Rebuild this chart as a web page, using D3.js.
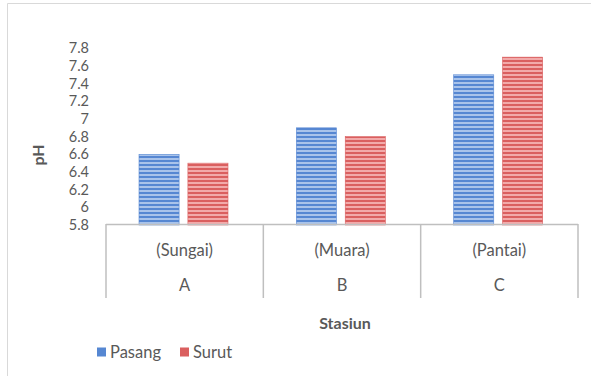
<!DOCTYPE html>
<html>
<head>
<meta charset="utf-8">
<script src="https://cdn.jsdelivr.net/npm/d3@7"></script>
<style>
  html, body { margin: 0; padding: 0; background: #fff; }
  svg text { font-family: "Lato", "Open Sans", sans-serif; fill: #595959; }
</style>
</head>
<body>
<svg id="chart" width="591" height="376"></svg>
<script>
// pH per station, at high tide (Pasang) and low tide (Surut)
const stations = ["A", "B", "C"];
const stationNames = ["(Sungai)", "(Muara)", "(Pantai)"];
const seriesNames = ["Pasang", "Surut"];
const pasang = [6.6, 6.9, 7.5];
const surut = [6.5, 6.8, 7.7];
const yTicks = [5.8, 6, 6.2, 6.4, 6.6, 6.8, 7, 7.2, 7.4, 7.6, 7.8];

const seriesValues = [pasang, surut];
const colors = {
  Pasang: { base: "#5687d2", light: "#a9c3ea" },
  Surut:  { base: "#da5f5f", light: "#f2aaaa" }
};

const svg = d3.select("#chart");

// chart frame
svg.append("path")
  .attr("d", "M7.5,376 V3.5 H591")
  .attr("fill", "none")
  .attr("stroke", "#d9d9d9")
  .attr("stroke-width", 1);

// horizontal stripe fills for the bars
const defs = svg.append("defs");
seriesNames.forEach(s => {
  const p = defs.append("pattern")
    .attr("id", "stripe-" + s)
    .attr("patternUnits", "userSpaceOnUse")
    .attr("width", 8).attr("height", 4);
  p.append("rect").attr("width", 8).attr("height", 4).attr("fill", colors[s].light);
  p.append("rect").attr("y", 0).attr("width", 8).attr("height", 2).attr("fill", colors[s].base);
});

const x = d3.scaleBand().domain(stations).range([106, 578]).padding(0);
const xs = d3.scaleBand().domain(seriesNames).range([33, 122]).paddingInner(0.18);
const y = d3.scaleLinear().domain([5.8, 7.8]).range([225, 48.3]);

// y tick labels (no axis line drawn)
const yAxis = d3.axisLeft(y).tickValues(yTicks).tickSize(0).tickPadding(0)
  .tickFormat(d3.format("~g"));
const yg = svg.append("g").attr("transform", "translate(89,0)").call(yAxis);
yg.select(".domain").remove();
yg.selectAll("text")
  .style("font-family", "Lato, sans-serif")
  .attr("font-size", 14.5).attr("fill", "#595959");

// bars
const rows = stations.map((st, i) => ({ st, values: seriesNames.map((s, k) => ({ s, v: seriesValues[k][i] })) }));
const groups = svg.append("g").selectAll("g").data(rows).join("g")
  .attr("transform", d => `translate(${x(d.st)},0)`);
groups.selectAll("rect").data(d => d.values).join("rect")
  .attr("x", d => xs(d.s))
  .attr("width", xs.bandwidth())
  .attr("y", d => y(d.v))
  .attr("height", d => y(5.8) - y(d.v))
  .attr("fill", d => `url(#stripe-${d.s})`)
  .attr("stroke", d => colors[d.s].base)
  .attr("stroke-width", 0.6);

// multi-level category axis
const axisColor = "#bfbfbf";
const axisG = svg.append("g");
axisG.append("line")
  .attr("x1", x.range()[0]).attr("x2", x.range()[1])
  .attr("y1", 224.5).attr("y2", 224.5)
  .attr("stroke", axisColor).attr("stroke-width", 1.5);
const dividers = stations.map(s => x(s)).concat([x.range()[1]]);
axisG.selectAll(".div").data(dividers).join("line")
  .attr("x1", d => d).attr("x2", d => d)
  .attr("y1", 224).attr("y2", 298)
  .attr("stroke", axisColor).attr("stroke-width", 1.5);

axisG.selectAll(".name").data(stations).join("text")
  .attr("x", d => x(d) + x.bandwidth() / 2)
  .attr("y", 256)
  .attr("text-anchor", "middle")
  .attr("font-size", 16.5)
  .text((d, i) => stationNames[i]);
axisG.selectAll(".code").data(stations).join("text")
  .attr("x", d => x(d) + x.bandwidth() / 2)
  .attr("y", 291)
  .attr("text-anchor", "middle")
  .attr("font-size", 16.5)
  .text(d => d);

// axis titles
svg.append("text")
  .attr("x", 345).attr("y", 329)
  .attr("text-anchor", "middle")
  .attr("font-size", 16).attr("font-weight", "bold")
  .text("Stasiun");
svg.append("text")
  .attr("transform", "translate(44,155) rotate(-90)")
  .attr("text-anchor", "middle")
  .attr("font-size", 16).attr("font-weight", "bold")
  .text("pH");

// legend
const legend = svg.append("g").attr("transform", "translate(97,352)");
const legendX = [0, 83];
seriesNames.forEach((s, i) => {
  const g = legend.append("g").attr("transform", `translate(${legendX[i]},0)`);
  g.append("rect").attr("x", 0).attr("y", -4.5).attr("width", 9).attr("height", 9)
    .attr("fill", colors[s].base);
  g.append("text").attr("x", 13).attr("y", 5.5).attr("font-size", 16.5).text(s);
});
</script>
</body>
</html>
